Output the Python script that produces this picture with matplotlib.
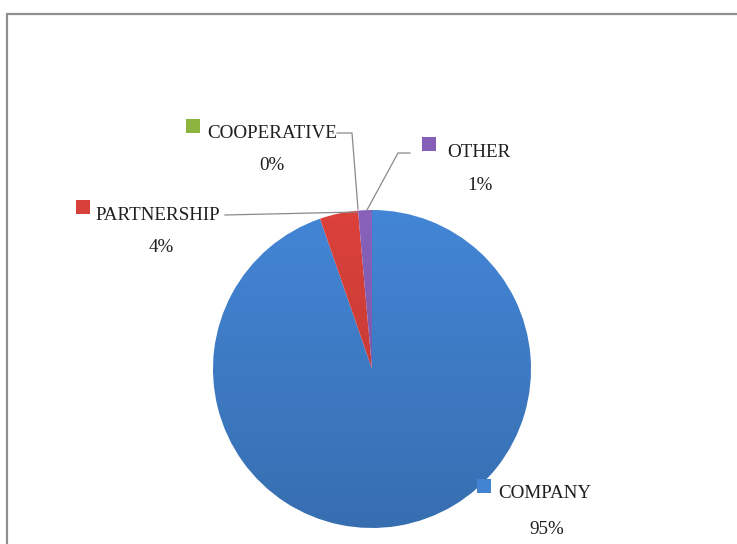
import numpy as np
import matplotlib
matplotlib.use("Agg")
import matplotlib.pyplot as plt
from matplotlib.colors import to_rgb

# ---- data ----
categories = ["COMPANY", "PARTNERSHIP", "COOPERATIVE", "OTHER"]
shares = [94.7, 3.9, 0.0, 1.4]
pct_labels = ["95%", "4%", "0%", "1%"]
colors = ["#4283d2", "#d8403a", "#8db43f", "#8660b8"]

W, H = 737, 544
fig = plt.figure(figsize=(W / 100, H / 100), dpi=100)
ax = fig.add_axes([0, 0, 1, 1])

def P(x, y):
    return x, H - y

cx, cy = P(372, 369)
R = 159

wedges, _ = ax.pie(shares, colors=colors, startangle=90, counterclock=False,
                   center=(cx, cy), radius=R,
                   wedgeprops=dict(linewidth=0))

# vertical gradient fill for each wedge
ny = 200
t = np.linspace(0, 1, ny)[:, None]
for w, c in zip(wedges, colors):
    base = np.array(to_rgb(c))
    top = np.clip(base * 1.02, 0, 1)
    bot = base * 0.84
    grad = top[None, None, :] * (1 - t[..., None]) + bot[None, None, :] * t[..., None]
    grad = np.repeat(grad, 2, axis=1)
    im = ax.imshow(grad, extent=(cx - R, cx + R, cy - R, cy + R), origin="upper",
                   aspect="auto", interpolation="bilinear", zorder=2)
    im.set_clip_path(w)
    w.set_facecolor("none")

ax.set_xlim(0, W)
ax.set_ylim(0, H)
ax.set_aspect("auto")
ax.axis("off")

# frame
frame_c = "#8f8f8f"
ax.plot([P(6, 14)[0], W + 5], [P(6, 14)[1]] * 2, color=frame_c, lw=1.6,
        solid_capstyle="butt", zorder=1)
ax.plot([7, 7], [P(7, 14)[1], -5], color=frame_c, lw=1.6,
        solid_capstyle="butt", zorder=1)

font = dict(family=["Liberation Serif", "DejaVu Serif"], size=13.7, color="#1f1f1f")

# label layout (pixel coordinates): marker center, text left, text center y, pct center
layout = {
    "COMPANY": ((484, 486), 498, 491, (547, 527)),
    "PARTNERSHIP": ((83, 207), 95, 213.5, (161, 245)),
    "COOPERATIVE": ((193, 126), 207, 131, (272, 163)),
    "OTHER": ((429, 144), 447, 150.5, (480, 183)),
}
for cat, pct, c in zip(categories, pct_labels, colors):
    (mx, my), tx, ty, (px, py) = layout[cat]
    ax.scatter(*P(mx, my), marker="s", s=95, color=c, edgecolors="none", zorder=4)
    ax.text(*P(tx, ty), cat, ha="left", va="center_baseline", **font, zorder=4)
    ax.text(*P(px, py), pct, ha="center", va="center_baseline", **font, zorder=4)

# leader lines
leaders = [
    [(337, 133), (352, 133), (358, 209)],
    [(225, 215), (357, 212)],
    [(410, 153), (398, 153), (367, 210)],
]
for pts in leaders:
    xs, ys = zip(*[P(x, y) for x, y in pts])
    ax.plot(xs, ys, color="#8a8a8a", lw=0.9, zorder=3)

fig.savefig("out.png", dpi=100, facecolor="white")
